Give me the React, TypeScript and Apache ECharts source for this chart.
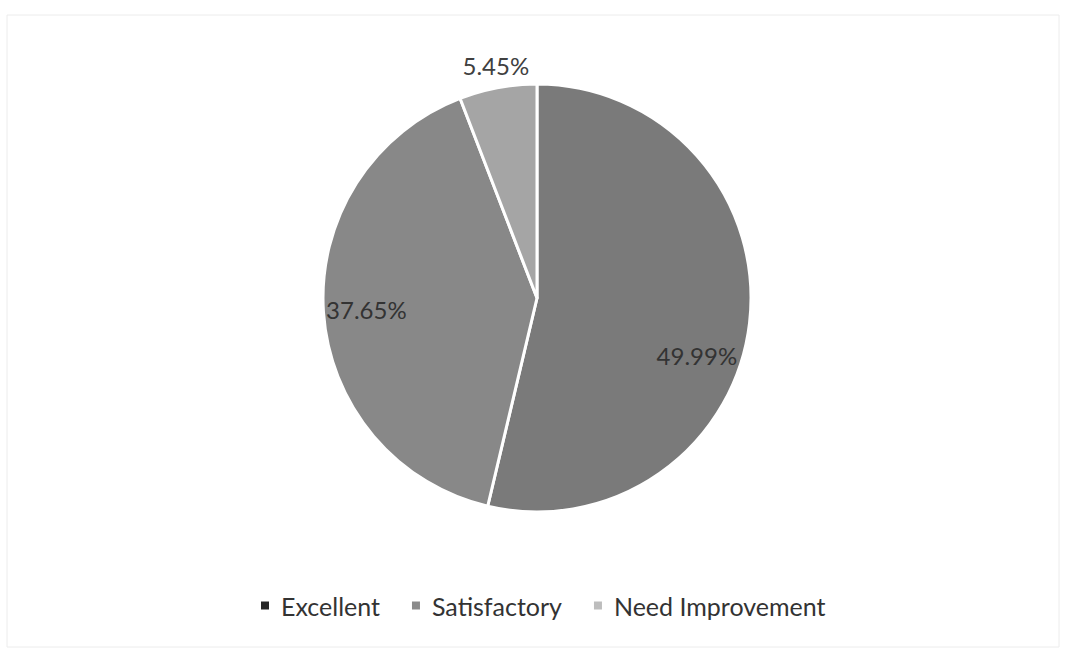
import React, { useEffect, useRef } from "react";
import * as echarts from "echarts";

const categories = ["Excellent", "Satisfactory", "Need Improvement"];
const values = [49.99, 37.65, 5.45];
const sliceColors = ["#7a7a7a", "#888888", "#a5a5a5"];
const legendColors = ["#262626", "#8a8a8a", "#bdbdbd"];

export default function App() {
  const ref = useRef<HTMLDivElement>(null);
  useEffect(() => {
    if (!ref.current) return;
    const chart = echarts.init(ref.current, undefined, { renderer: "svg" });
    const font = "Lato, 'Noto Sans', sans-serif";
    const data = categories.map((name, i) => ({
      name,
      value: values[i],
      itemStyle: { color: sliceColors[i] },
    }));
    chart.setOption({
      animation: false,
      backgroundColor: "#ffffff",
      graphic: [
        {
          type: "rect",
          shape: { x: 7, y: 15, width: 1052, height: 632 },
          style: { fill: "none", stroke: "#ececec", lineWidth: 1 },
          silent: true,
        },
      ],
      legend: {
        bottom: 29,
        left: 254,
        icon: "rect",
        itemWidth: 10,
        itemHeight: 10,
        itemGap: 30,
        selectedMode: false,
        textStyle: {
          fontFamily: font,
          fontSize: 25,
          color: "#333333",
          padding: [0, 0, 0, 6],
        },
        data: categories.map((name, i) => ({
          name,
          itemStyle: { color: legendColors[i] },
        })),
      },
      series: [
        {
          type: "pie",
          center: [537, 298],
          radius: [0, 214],
          startAngle: 90,
          clockwise: true,
          data,
          itemStyle: { borderColor: "#ffffff", borderWidth: 3 },
          label: {
            show: true,
            position: "outside",
            formatter: (p: any) => (p.dataIndex === 2 ? p.value + "%" : ""),
            fontFamily: font,
            fontSize: 24,
            color: "#404040",
          },
          labelLine: { show: false, length: 22, length2: 0 },
          labelLayout: () => ({ align: "center", dx: 7 }),
          emphasis: { disabled: true },
          silent: true,
        },
        {
          type: "pie",
          center: [537, 298],
          radius: [122, 214],
          startAngle: 90,
          clockwise: true,
          data: categories.map((name, i) => ({ name, value: values[i] })),
          itemStyle: { color: "rgba(0,0,0,0)", borderWidth: 0 },
          label: {
            show: true,
            position: "inside",
            formatter: (p: any) => (p.dataIndex === 2 ? "" : p.value + "%"),
            fontFamily: font,
            fontSize: 24,
            color: "#333333",
          },
          labelLine: { show: false },
          labelLayout: (p: any) => (p.dataIndex === 0 ? { dx: -10, dy: 38 } : {}),
          emphasis: { disabled: true },
          silent: true,
        },
      ],
    });
    return () => chart.dispose();
  }, []);
  return (
    <div
      ref={ref}
      style={{ position: "fixed", left: 0, top: 0, width: 1065, height: 652 }}
    />
  );
}
